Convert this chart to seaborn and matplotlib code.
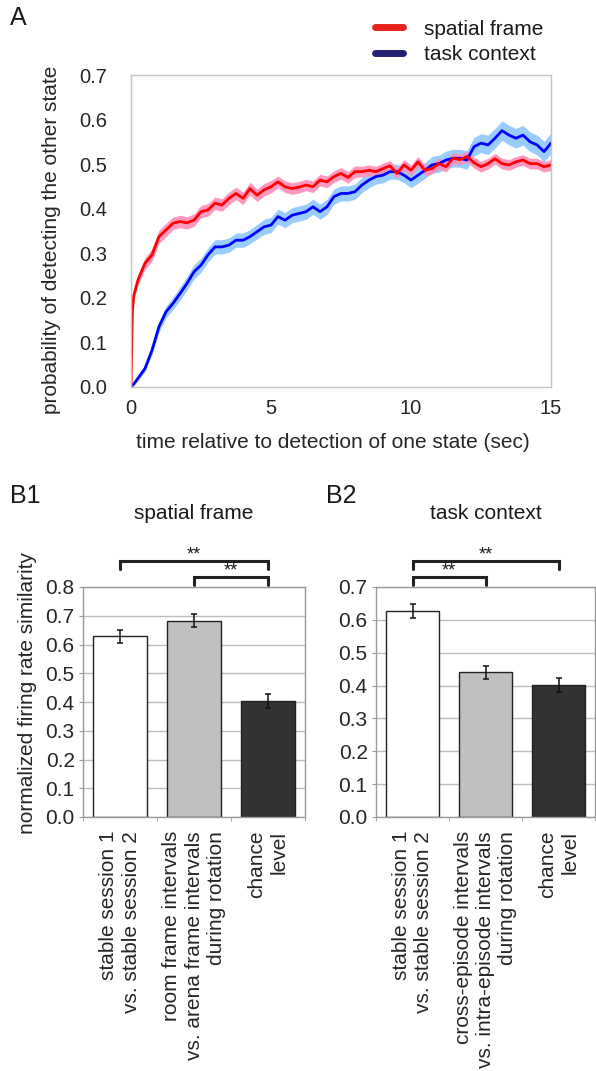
import numpy as np
import pandas as pd
import matplotlib
matplotlib.use('Agg')
import matplotlib.pyplot as plt
import matplotlib.transforms as mtransforms
from matplotlib.lines import Line2D
import seaborn as sns

# ---- panel A: probability of detecting the other state ----
time_sec = [0.0, 0.05, 0.1,
            0.25, 0.5, 0.75, 1.0,
            1.25, 1.5, 1.75, 2.0,
            2.25, 2.5, 2.75, 3.0,
            3.25, 3.5, 3.75, 4.0,
            4.25, 4.5, 4.75, 5.0,
            5.25, 5.5, 5.75, 6.0,
            6.25, 6.5, 6.75, 7.0,
            7.25, 7.5, 7.75, 8.0,
            8.25, 8.5, 8.75, 9.0,
            9.25, 9.5, 9.75, 10.0,
            10.25, 10.5, 10.75, 11.0,
            11.25, 11.5, 11.75, 12.0,
            12.25, 12.5, 12.75, 13.0,
            13.25, 13.5, 13.75, 14.0,
            14.25, 14.5, 14.75, 15.0]

spatial_mean = [0.0, 0.17, 0.205,
                0.240, 0.277, 0.296, 0.337,
                0.352, 0.367, 0.371, 0.368,
                0.374, 0.393, 0.397, 0.412,
                0.408, 0.423, 0.434, 0.423,
                0.445, 0.430, 0.442, 0.449,
                0.460, 0.449, 0.445, 0.448,
                0.453, 0.449, 0.464, 0.460,
                0.472, 0.479, 0.470, 0.483,
                0.483, 0.486, 0.483, 0.490,
                0.496, 0.479, 0.498, 0.486,
                0.505, 0.486, 0.490, 0.501,
                0.494, 0.513, 0.510, 0.517,
                0.503, 0.494, 0.501, 0.512,
                0.501, 0.498, 0.505, 0.509,
                0.501, 0.501, 0.494, 0.498]

spatial_sem = [0.0, 0.008, 0.010,
               0.012, 0.013, 0.014, 0.015,
               0.015, 0.014, 0.014, 0.014,
               0.014, 0.014, 0.014, 0.014,
               0.014, 0.014, 0.014, 0.014,
               0.014, 0.014, 0.014, 0.014,
               0.013, 0.013, 0.013, 0.013,
               0.013, 0.013, 0.013, 0.013,
               0.013, 0.013, 0.013, 0.013,
               0.012, 0.012, 0.012, 0.012,
               0.012, 0.012, 0.012, 0.012,
               0.012, 0.012, 0.012, 0.012,
               0.012, 0.012, 0.012, 0.012,
               0.012, 0.012, 0.012, 0.012,
               0.012, 0.012, 0.012, 0.012,
               0.012, 0.012, 0.012, 0.012]

task_mean = [0.0, 0.003, 0.006,
             0.019, 0.041, 0.082, 0.135,
             0.168, 0.187, 0.209, 0.232,
             0.258, 0.273, 0.296, 0.314,
             0.314, 0.318, 0.329, 0.329,
             0.337, 0.348, 0.359, 0.363,
             0.382, 0.374, 0.385, 0.389,
             0.393, 0.404, 0.393, 0.404,
             0.427, 0.434, 0.434, 0.438,
             0.453, 0.464, 0.472, 0.475,
             0.483, 0.483, 0.475, 0.464,
             0.475, 0.486, 0.498, 0.501,
             0.509, 0.513, 0.513, 0.509,
             0.539, 0.547, 0.543, 0.558,
             0.575, 0.565, 0.558, 0.565,
             0.550, 0.543, 0.528, 0.547]

task_sem = [0.0, 0.002, 0.003,
            0.005, 0.007, 0.010, 0.012,
            0.013, 0.014, 0.015, 0.015,
            0.016, 0.016, 0.016, 0.016,
            0.016, 0.016, 0.016, 0.016,
            0.016, 0.016, 0.017, 0.017,
            0.017, 0.017, 0.017, 0.017,
            0.017, 0.017, 0.017, 0.017,
            0.017, 0.017, 0.017, 0.017,
            0.017, 0.017, 0.017, 0.017,
            0.017, 0.017, 0.017, 0.017,
            0.018, 0.018, 0.019, 0.019,
            0.020, 0.020, 0.020, 0.021,
            0.021, 0.021, 0.022, 0.022,
            0.022, 0.022, 0.022, 0.022,
            0.022, 0.022, 0.023, 0.023]

# ---- panels B1 / B2: normalized firing rate similarity ----
b1_labels = ['stable session 1\nvs. stable session 2',
             'room frame intervals\nvs. arena frame intervals\nduring rotation',
             'chance\nlevel']
b1_values = [0.628, 0.683, 0.403]
b1_errors = [0.024, 0.022, 0.024]

b2_labels = ['stable session 1\nvs. stable session 2',
             'cross-episode intervals\nvs. intra-episode intervals\nduring rotation',
             'chance\nlevel']
b2_values = [0.627, 0.441, 0.402]
b2_errors = [0.022, 0.020, 0.022]

bar_colors = ['#ffffff', '#c0c0c0', '#333333']

sns.set_style('white')
plt.rcParams['font.family'] = ['Liberation Sans', 'DejaVu Sans']
plt.rcParams['text.color'] = '#1a1a1a'

W, H = 596, 1071
fig = plt.figure(figsize=(W / 100, H / 100), dpi=100)


def box(left, top, right, bottom):
    return [left / W, 1 - bottom / H, (right - left) / W, (bottom - top) / H]


######## panel A
axA = fig.add_axes(box(131, 75, 551, 386.7))
dfA = pd.DataFrame({'t': time_sec, 'spatial': spatial_mean, 'task': task_mean,
                    'spatial_sem': spatial_sem, 'task_sem': task_sem})
axA.fill_between(dfA['t'], dfA['task'] - dfA['task_sem'], dfA['task'] + dfA['task_sem'],
                 color='#99ccff', lw=0)
axA.fill_between(dfA['t'], dfA['spatial'] - dfA['spatial_sem'], dfA['spatial'] + dfA['spatial_sem'],
                 color='#ff8cba', lw=0, alpha=0.9)
sns.lineplot(data=dfA, x='t', y='task', ax=axA, color='#0000ff', lw=2)
sns.lineplot(data=dfA, x='t', y='spatial', ax=axA, color='#ff0000', lw=2)
axA.set_xlim(0, 15)
axA.set_ylim(0, 0.7)
axA.set_xticks([0, 5, 10, 15])
axA.set_yticks(np.arange(0, 0.71, 0.1))
axA.set_yticklabels(['%.1f' % v for v in np.arange(0, 0.71, 0.1)])
axA.tick_params(axis='both', length=0, labelsize=14.5)
axA.tick_params(axis='y', pad=17)
axA.tick_params(axis='x', pad=9)
for s in axA.spines.values():
    s.set_color('#c4c4c4')
    s.set_linewidth(1)
axA.set_xlabel('time relative to detection of one state (sec)', fontsize=15)
axA.set_ylabel('probability of detecting the other state', fontsize=15)
axA.xaxis.set_label_coords(0.48, -0.149)
axA.yaxis.set_label_coords(-0.167, 0.47)

handles = [Line2D([], [], color='#e8231c', lw=5),
           Line2D([], [], color='#231f70', lw=5)]
fig.legend(handles, ['spatial frame', 'task context'], loc='upper left',
           bbox_to_anchor=(356 / W, 1 - 1 / H), frameon=False, fontsize=15,
           handlelength=1.35, handletextpad=1.0, labelspacing=0.3)
fig.text(10 / W, 1 - 18 / H, 'A', fontsize=18, va='center', ha='left')


######## panels B
def bar_panel(ax, labels, values, errors, ymax, brackets):
    df = pd.DataFrame({'cond': labels, 'sim': values})
    sns.barplot(data=df, x='cond', y='sim', hue='cond', palette=bar_colors,
                legend=False, ax=ax, width=0.73, edgecolor='#222222', linewidth=1)
    ax.errorbar(range(len(values)), values, yerr=errors, fmt='none',
                ecolor='#111111', elinewidth=1.1, capsize=2.5, capthick=1.1)
    ax.set_xlim(-0.5, len(values) - 0.5)
    ax.set_ylim(0, ymax)
    ticks = np.arange(0, ymax + 0.01, 0.1)
    ax.set_yticks(ticks)
    ax.set_yticklabels(['%.1f' % v for v in ticks])
    ax.yaxis.grid(True, color='#bdbdbd', lw=1)
    ax.set_axisbelow(True)
    ax.set_xlabel('')
    ax.set_ylabel('')
    ax.tick_params(axis='y', labelsize=15, length=3, color='#999999', pad=3, left=True)
    ax.set_xticks(range(len(values)))
    ax.set_xticklabels(labels, rotation=90, fontsize=15, va='top', ha='center',
                       multialignment='right', linespacing=1.22)
    ax.tick_params(axis='x', length=0, pad=10)
    ax.set_xticks(np.arange(-0.5, len(values)), minor=True)
    ax.tick_params(axis='x', which='minor', length=3, color='#999999', bottom=True)
    for s in ax.spines.values():
        s.set_color('#9a9a9a')
        s.set_linewidth(1)
    trans = mtransforms.blended_transform_factory(ax.transData, ax.transAxes)
    for x0, x1, ytop, yleg in brackets:
        ax.plot([x0, x0, x1, x1], [yleg, ytop, ytop, yleg], color='#222222', lw=2.2,
                transform=trans, clip_on=False, solid_joinstyle='miter')
        ax.text((x0 + x1) / 2, ytop - 0.012, '**', transform=trans, ha='center',
                va='bottom', fontsize=13)


axB1 = fig.add_axes(box(83, 587, 305, 817))
bar_panel(axB1, b1_labels, b1_values, b1_errors, 0.8,
          [(0, 2, 1.113, 1.078), (1, 2, 1.043, 1.010)])
axB1.set_ylabel('normalized firing rate similarity', fontsize=15)
axB1.yaxis.set_label_coords(-0.207, 0.54)
axB1.text(0.5, 1.32, 'spatial frame', transform=axB1.transAxes, ha='center',
          va='center', fontsize=15)

axB2 = fig.add_axes(box(376, 587, 595, 817))
bar_panel(axB2, b2_labels, b2_values, b2_errors, 0.7,
          [(0, 2, 1.113, 1.078), (0, 1, 1.043, 1.010)])
axB2.text(0.5, 1.32, 'task context', transform=axB2.transAxes, ha='center',
          va='center', fontsize=15)

fig.text(10 / W, 1 - 496 / H, 'B1', fontsize=18, va='center', ha='left')
fig.text(326 / W, 1 - 496 / H, 'B2', fontsize=18, va='center', ha='left')

fig.savefig('out.png', dpi=100)
